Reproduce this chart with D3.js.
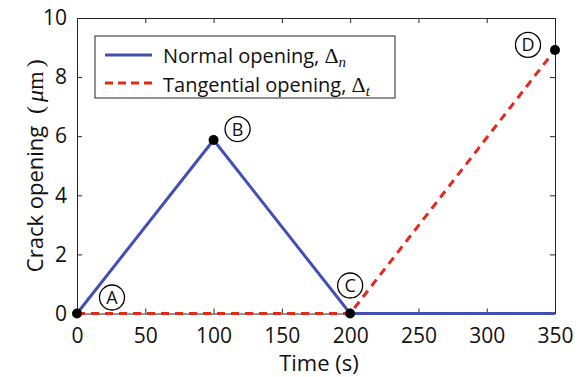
<!DOCTYPE html>
<html lang="en">
<head>
<meta charset="utf-8">
<title>Crack opening vs time</title>
<script src="https://cdn.jsdelivr.net/npm/d3@7"></script>
<style>
  body { margin: 0; background: #fff; }
  text { font-family: "Open Sans", sans-serif; fill: #111; }
</style>
</head>
<body>
<script>
// data
var time = [0, 100, 200, 350];
var normalOpening = [0, 5.87, 0, 0];
var tangentialOpening = [0, 0, 0, 8.92];
var xTicks = [0, 50, 100, 150, 200, 250, 300, 350];
var yTicks = [0, 2, 4, 6, 8, 10];
var markerLabels = ["A", "B", "C", "D"];
var markerTime = [0, 100, 200, 350];
var markerValue = [0, 5.87, 0, 8.92];

var w = 583, h = 377;
var padL = 77, padR = 555, padT = 18, padB = 313.5;

var svg = d3.select("body").append("svg")
    .attr("width", w)
    .attr("height", h);

var x = d3.scaleLinear().domain([0, 350]).range([padL, padR]);
var y = d3.scaleLinear().domain([0, 10]).range([padB, padT]);

var axisColor = "#262626";

function styleAxis(g) {
  g.selectAll("path").attr("stroke", axisColor).attr("stroke-width", 1);
  g.selectAll("line").attr("stroke", axisColor).attr("stroke-width", 1);
  g.selectAll("text").attr("font-family", "Open Sans").attr("font-size", 21).attr("fill", "#111");
}

// bottom axis with inward ticks
svg.append("g")
  .attr("transform", "translate(0," + padB + ")")
  .call(d3.axisBottom(x).tickValues(xTicks).tickSizeInner(-5).tickSizeOuter(0).tickPadding(15))
  .call(styleAxis);

// top axis (ticks only)
svg.append("g")
  .attr("transform", "translate(0," + padT + ")")
  .call(d3.axisTop(x).tickValues(xTicks).tickSizeInner(-5).tickSizeOuter(0).tickFormat(""))
  .call(styleAxis);

// left axis
svg.append("g")
  .attr("transform", "translate(" + padL + ",0)")
  .call(d3.axisLeft(y).tickValues(yTicks).tickSizeInner(-5).tickSizeOuter(0).tickPadding(10))
  .call(styleAxis);

// right axis
svg.append("g")
  .attr("transform", "translate(" + padR + ",0)")
  .call(d3.axisRight(y).tickValues(yTicks).tickSizeInner(-5).tickSizeOuter(0).tickFormat(""))
  .call(styleAxis);

var line = d3.line()
  .x(function(d) { return x(d[0]); })
  .y(function(d) { return y(d[1]); });

var normalPts = time.map(function(t, i) { return [t, normalOpening[i]]; });
var tangPts = time.map(function(t, i) { return [t, tangentialOpening[i]]; });

svg.append("path")
  .attr("d", line(normalPts))
  .attr("fill", "none")
  .attr("stroke", "#4150b2")
  .attr("stroke-width", 3);

svg.append("path")
  .attr("d", line(tangPts))
  .attr("fill", "none")
  .attr("stroke", "#e3281c")
  .attr("stroke-width", 3)
  .attr("stroke-dasharray", "8,6");

// marker dots
svg.selectAll("circle.dot")
  .data(markerLabels)
  .enter().append("circle")
  .attr("class", "dot")
  .attr("cx", function(d, i) { return x(markerTime[i]); })
  .attr("cy", function(d, i) { return y(markerValue[i]); })
  .attr("r", 5)
  .attr("fill", "#000");

// circled letters next to the dots
var offsets = { A: [35, -16], B: [24, -11], C: [0, -28], D: [-27, -5] };
var tags = svg.selectAll("g.tag")
  .data(markerLabels)
  .enter().append("g")
  .attr("class", "tag")
  .attr("transform", function(d, i) {
    return "translate(" + (x(markerTime[i]) + offsets[d][0]) + "," + (y(markerValue[i]) + offsets[d][1]) + ")";
  });
tags.append("circle")
  .attr("r", 12.5)
  .attr("fill", "#fff")
  .attr("stroke", "#000")
  .attr("stroke-width", 1.3);
tags.append("text")
  .text(function(d) { return d; })
  .attr("text-anchor", "middle")
  .attr("dy", "0.36em")
  .attr("font-size", 18);

// legend
var lg = svg.append("g");
lg.append("rect")
  .attr("x", 95).attr("y", 36)
  .attr("width", 300).attr("height", 62)
  .attr("fill", "#fff")
  .attr("stroke", axisColor)
  .attr("stroke-width", 1);

lg.append("line")
  .attr("x1", 105).attr("x2", 152).attr("y1", 55).attr("y2", 55)
  .attr("stroke", "#4150b2").attr("stroke-width", 3);
lg.append("line")
  .attr("x1", 105).attr("x2", 152).attr("y1", 83).attr("y2", 83)
  .attr("stroke", "#e3281c").attr("stroke-width", 3)
  .attr("stroke-dasharray", "8,5");

var t1 = lg.append("text").attr("x", 163).attr("y", 63).attr("font-size", 20);
t1.append("tspan").text("Normal opening, ");
t1.append("tspan").text("\u0394").attr("font-family", "Liberation Serif").attr("font-size", 22);
t1.append("tspan").text("n").attr("font-family", "Liberation Serif").attr("font-style", "italic")
  .attr("font-size", 15).attr("dy", 4);

var t2 = lg.append("text").attr("x", 163).attr("y", 92).attr("font-size", 20);
t2.append("tspan").text("Tangential opening, ");
t2.append("tspan").text("\u0394").attr("font-family", "Liberation Serif").attr("font-size", 22);
t2.append("tspan").text("t").attr("font-family", "Liberation Serif").attr("font-style", "italic")
  .attr("font-size", 15).attr("dy", 4);

// axis titles
svg.append("text")
  .attr("x", (padL + padR) / 2 + 3)
  .attr("y", 371)
  .attr("text-anchor", "middle")
  .attr("font-size", 22)
  .text("Time (s)");

var yl = svg.append("text")
  .attr("transform", "translate(43," + ((padT + padB) / 2) + ") rotate(-90)")
  .attr("text-anchor", "middle")
  .attr("font-size", 22);
yl.append("tspan").text("Crack opening ");
yl.append("tspan").text("(").attr("font-family", "Liberation Serif").attr("font-size", 24).attr("dx", 6);
yl.append("tspan").text("\u03bc").attr("font-family", "Liberation Serif").attr("font-style", "italic").attr("font-size", 24).attr("dx", 4);
yl.append("tspan").text("m").attr("font-family", "Liberation Serif").attr("font-size", 24);
yl.append("tspan").text(")").attr("font-family", "Liberation Serif").attr("font-size", 24).attr("dx", 4);
</script>
</body>
</html>
